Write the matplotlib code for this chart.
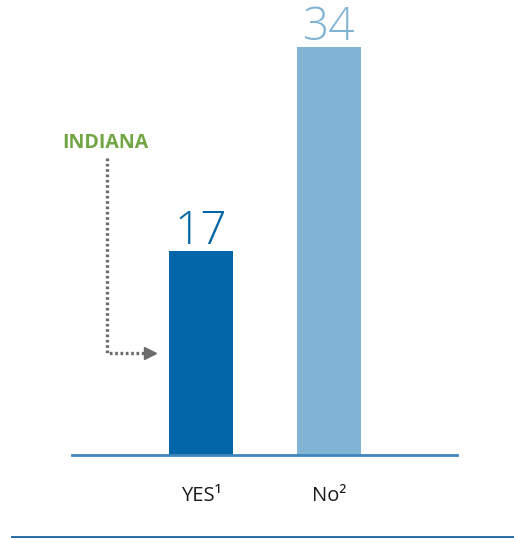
import matplotlib.pyplot as plt

categories = ["YES¹", "No²"]
values = [17, 34]
bar_colors = ["#0266a8", "#80b3d4"]

W, H = 514, 538
fig = plt.figure(figsize=(W / 100, H / 100), dpi=100)
plt.rcParams["font.family"] = ["Open Sans", "DejaVu Sans"]

# axes: baseline at y=455 px, x from 72 to 457 px
ax = fig.add_axes([72 / W, 1 - 455 / H, 385 / W, 455 / H])
x = range(len(categories))
ax.bar(x, values, width=0.5, color=bar_colors, zorder=2)
ax.set_xlim(-129 / 128, 256 / 128)
ax.set_ylim(0, 455 / 12)

for xi, v, c in zip(x, values, bar_colors):
    ax.annotate(str(v), (xi, v), xytext=(0, 5), textcoords="offset points",
                ha="center", va="baseline", fontsize=33, color=c,
                fontweight="light")
    ax.annotate(categories[xi], (xi, 0), xytext=(0, -33), textcoords="offset points",
                ha="center", va="baseline", fontsize=14.5, color="#1a1a1a")

for s in ["top", "right", "left"]:
    ax.spines[s].set_visible(False)
ax.spines["bottom"].set_color("#3f86bd")
ax.spines["bottom"].set_linewidth(2)
ax.set_xticks([])
ax.set_yticks([])

# INDIANA callout
fig.text(105 / W, 1 - 143 / H, "INDIANA", ha="center", va="center",
         fontsize=14, fontweight="bold", color="#72a544")
fig.add_artist(plt.Line2D([107 / W, 107 / W, 146 / W], [1 - 158 / H, 1 - 353 / H, 1 - 353 / H],
                          transform=fig.transFigure, color="#6b6b6b", lw=2.4,
                          linestyle=(0, (0.8, 0.8))))
fig.add_artist(plt.Line2D([150 / W], [1 - 353 / H], transform=fig.transFigure,
                          marker=">", markersize=8, color="#6b6b6b", linestyle="none"))

# bottom rule
fig.add_artist(plt.Line2D([12 / W, 1], [1 - 536.5 / H, 1 - 536.5 / H],
                          transform=fig.transFigure, color="#1f659e", lw=2))

fig.savefig("out.png", dpi=100)
